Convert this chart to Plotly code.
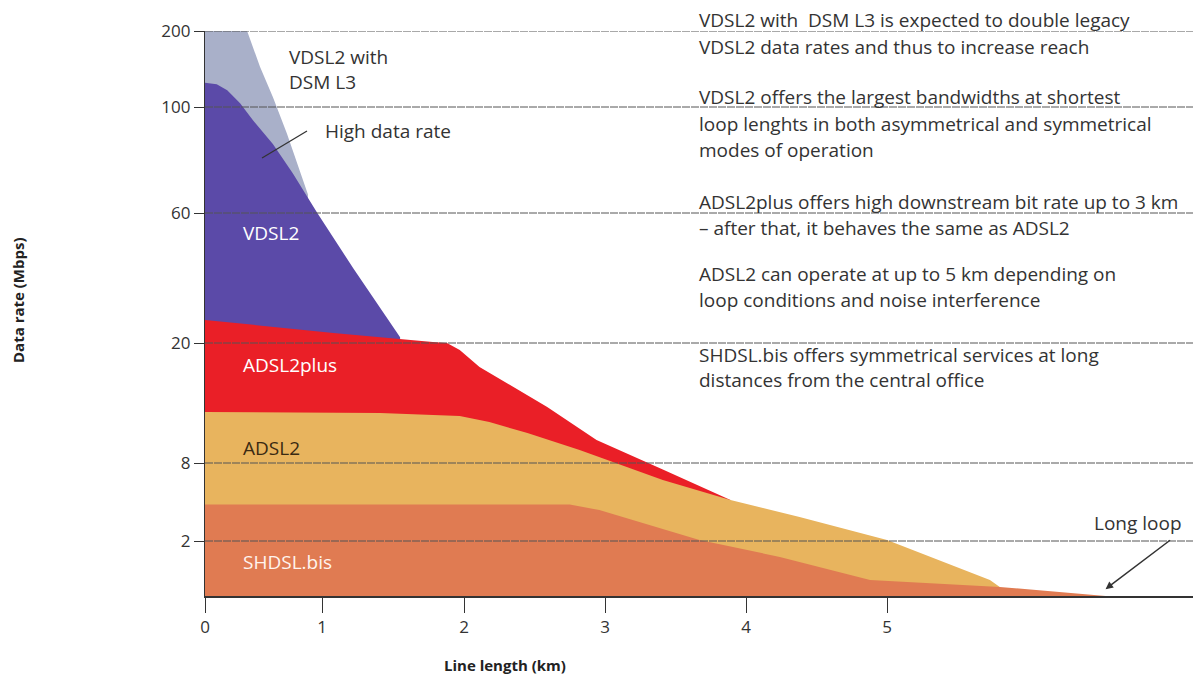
import numpy as np
import plotly.graph_objects as go

# ---- data: line length (km) vs. achievable data rate (Mbps) per technology ----
dsm_km = [0, 0.36, 0.47, 0.58, 0.70, 0.88]
dsm_mbps = [200, 200, 153, 113, 90, 67]

vdsl2_km = [0, 0.10, 0.19, 0.30, 0.41, 0.58, 0.75, 0.96, 1.22, 1.55]
vdsl2_mbps = [132, 130, 122, 105, 95, 86, 75, 60, 43, 21.8]

adsl2plus_km = [0, 1.08, 1.78, 1.88, 1.97, 2.11, 2.59, 2.94, 3.41, 3.70, 3.89]
adsl2plus_mbps = [27.1, 23.1, 20.3, 20.0, 19.3, 17.6, 13.6, 10.3, 7.5, 6.1, 5.15]

adsl2_km = [0, 1.41, 1.97, 2.18, 2.45, 2.82, 3.41, 3.89, 4.38, 5.0, 5.73, 5.80]
adsl2_mbps = [13.1, 13.0, 12.7, 12.1, 11.0, 9.3, 6.7, 5.15, 3.85, 2.08, 0.58, 0.33]

shdsl_km = [0, 2.75, 2.96, 3.67, 4.24, 4.88, 5.80, 6.55]
shdsl_mbps = [4.8, 4.8, 4.38, 2.08, 1.42, 0.58, 0.33, 0]

x_ticks = [0, 1, 2, 3, 4, 5]
y_ticks = [2, 8, 20, 60, 100, 200]

# ---- piecewise scales used by the axes ----
KM_STOPS = [0, 1, 2, 3, 4, 5, 7]
KM_UNITS = [0, 117, 259, 400, 541, 682, 964]
MBPS_STOPS = [0, 2, 8, 20, 60, 100, 200]
MBPS_UNITS = [0, 55, 133, 253, 383, 489, 565]


def sx(km):
    return np.interp(km, KM_STOPS, KM_UNITS)


def sy(mbps):
    return np.interp(mbps, MBPS_STOPS, MBPS_UNITS)


W, H = 1193, 676
L, T, B = 205, 31, 80
PW, PH = W - L, H - T - B


def px(xp):
    return (xp - L) / PW


def py(yp):
    return (H - B - yp) / PH


layers = [
    ("VDSL2 with DSM L3", dsm_km, dsm_mbps, "#a9b0c9"),
    ("VDSL2", vdsl2_km, vdsl2_mbps, "#5b4aa8"),
    ("ADSL2plus", adsl2plus_km, adsl2plus_mbps, "#ea1f27"),
    ("ADSL2", adsl2_km, adsl2_mbps, "#e8b45e"),
    ("SHDSL.bis", shdsl_km, shdsl_mbps, "#e07b52"),
]

fig = go.Figure()
for name, km, mbps, color in layers:
    fig.add_trace(go.Scatter(
        x=sx(km), y=sy(mbps), name=name, mode="lines",
        line=dict(width=0, color=color), fill="tozeroy", fillcolor=color,
        hoverinfo="name",
    ))

FONT = "Open Sans"
TXT = "#333333"
FS = 19

notes = [
    (20, "VDSL2 with  DSM L3 is expected to double legacy"),
    (47, "VDSL2 data rates and thus to increase reach"),
    (97, "VDSL2 offers the largest bandwidths at shortest"),
    (124, "loop lenghts in both asymmetrical and symmetrical"),
    (150, "modes of operation"),
    (202, "ADSL2plus offers high downstream bit rate up to 3 km"),
    (228, "– after that, it behaves the same as ADSL2"),
    (274, "ADSL2 can operate at up to 5 km depending on"),
    (300, "loop conditions and noise interference"),
    (355, "SHDSL.bis offers symmetrical services at long"),
    (380, "distances from the central office"),
]
ann = []
for yp, t in notes:
    ann.append(dict(x=px(697), y=py(yp), xref="paper", yref="paper", text=t,
                    showarrow=False, xanchor="left", yanchor="middle",
                    font=dict(family=FONT, size=FS, color=TXT)))

area_labels = [
    (287, 57, "VDSL2 with", TXT),
    (287, 82, "DSM L3", TXT),
    (323, 131, "High data rate", TXT),
    (241, 233, "VDSL2", "#ffffff"),
    (241, 365, "ADSL2plus", "#ffffff"),
    (241, 448, "ADSL2", "#3a2a12"),
    (241, 562, "SHDSL.bis", "#fff4ee"),
    (1092, 523, "Long loop", TXT),
]
for xp, yp, t, c in area_labels:
    ann.append(dict(x=px(xp), y=py(yp), xref="paper", yref="paper", text=t,
                    showarrow=False, xanchor="left", yanchor="middle",
                    font=dict(family=FONT, size=FS, color=c)))

# arrow pointing to the end of the longest loop
ann.append(dict(x=sx(6.55), y=sy(0.25), xref="x", yref="y", text="",
                showarrow=True, ax=66, ay=-50, arrowhead=2, arrowsize=1,
                arrowwidth=1.5, arrowcolor=TXT))

# axis titles
ann.append(dict(x=px(18), y=py(300), xref="paper", yref="paper",
                text="<b>Data rate (Mbps)</b>", textangle=-90, showarrow=False,
                xanchor="center", yanchor="middle",
                font=dict(family=FONT, size=15, color="#222")))
ann.append(dict(x=px(505), y=py(665), xref="paper", yref="paper",
                text="<b>Line length (km)</b>", showarrow=False,
                xanchor="center", yanchor="middle",
                font=dict(family=FONT, size=15, color="#222")))

shapes = [dict(type="line", xref="paper", yref="paper",
               x0=px(307), y0=py(131), x1=px(262), y1=py(158),
               line=dict(color=TXT, width=1.3))]
# thin reference lines at each rate tick, drawn over the filled bands
for v in y_ticks:
    shapes.append(dict(type="line", xref="x", yref="y", layer="above",
                       x0=0, x1=PW, y0=float(sy(v)), y1=float(sy(v)),
                       line=dict(color="#555555", width=1, dash="8px,1px")))

fig.update_layout(
    width=W, height=H, margin=dict(l=L, r=0, t=T, b=B),
    paper_bgcolor="white", plot_bgcolor="white", showlegend=False,
    annotations=ann, shapes=shapes,
    font=dict(family=FONT, color=TXT),
)
fig.update_xaxes(
    range=[0, PW], tickvals=sx(x_ticks), ticktext=[str(v) for v in x_ticks],
    showgrid=False, zeroline=False, showline=True, linecolor="#333", linewidth=1.5,
    ticks="outside", ticklen=15, tickcolor="#333", tickwidth=1,
    tickfont=dict(family=FONT, size=17, color=TXT), layer="above traces",
)
fig.update_yaxes(
    range=[0, PH], tickvals=sy(y_ticks), ticktext=[str(v) for v in y_ticks],
    showgrid=False, zeroline=False, showline=True, linecolor="#333", linewidth=1.2,
    ticks="outside", ticklen=10, tickcolor="#333", tickwidth=1,
    tickfont=dict(family=FONT, size=17, color=TXT), layer="above traces",
)

fig.write_html("out.html")
